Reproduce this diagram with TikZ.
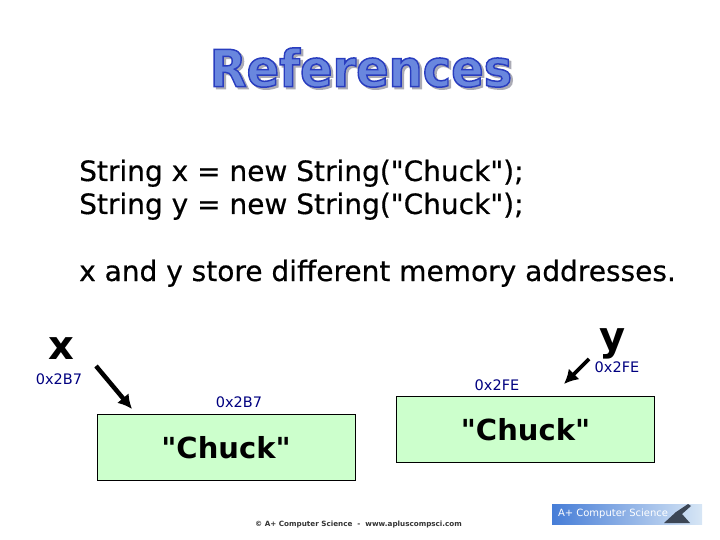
\documentclass[tikz,border=0pt]{standalone}
\usepackage{fontspec}
\usepackage{xcolor}
\usetikzlibrary{positioning,calc,arrows.meta}
\setmainfont[Ligatures=TeXOff]{DejaVu Sans}
\newfontfamily\codefont[Ligatures=TeXOff,FakeBold=0.5]{DejaVu Sans}
\definecolor{boxgreen}{RGB}{204,255,204}
\definecolor{addrblue}{RGB}{0,0,128}
\definecolor{logoblue}{RGB}{70,125,215}
\definecolor{logopale}{RGB}{215,230,245}
\definecolor{logohand}{RGB}{60,70,85}
\newcommand{\titleink}[1]{\special{pdf:code 2 Tr 1.5 w 0.16 0.24 0.75 RG 0.41 0.53 0.87 rg}#1\special{pdf:code 0 Tr}}
\newcommand{\shadowink}[1]{\special{pdf:code 2 Tr 1.5 w 0.67 0.67 0.71 RG 0.67 0.67 0.71 rg}#1\special{pdf:code 0 Tr}}

\begin{document}
\begin{tikzpicture}[x=1pt, y=-1pt, inner sep=0pt,
  headline/.style={xscale=0.94, transform shape, font=\bfseries\fontsize{51}{54}\selectfont},
  codeline/.style={anchor=base west, font=\codefont\fontsize{28}{30}\selectfont},
  addr/.style={font=\fontsize{14.5}{16}\selectfont, text=addrblue},
  var/.style={font=\bfseries\fontsize{40}{44}\selectfont},
  memory/.style={draw, line width=0.8pt, fill=boxgreen, minimum width=258pt, minimum height=66pt, font=\bfseries\fontsize{29}{32}\selectfont},
  pointer/.style={line width=4.5pt, -{Latex[length=14pt,width=15pt]}}]
\useasboundingbox (0,0) rectangle (720,540);
\node[headline] (title) at (361,68.5) {\rlap{\raisebox{-2pt}{\hspace{2.5pt}\shadowink{References}}}\titleink{References}};
\node[codeline] (line1) at (79,181) {String x = new String("Chuck");};
\node[codeline] (line2) at (79,214) {String y = new String("Chuck");};
\node[codeline] (line3) at (79,281) {x and y store different memory addresses.};
\node[var] (x) at (61,349) {x};
\node[var] (y) at (613,344) {y};
\node[addr] (xaddr) at (59,379) {0x2B7};
\node[addr] (yaddr) at (617,367) {0x2FE};
\node[memory] (xbox) at (226,447.5) {"Chuck"};
\node[memory] (ybox) at (525.5,429.5) {"Chuck"};
\node[addr] (xboxaddr) at (239,402) {0x2B7};
\node[addr] (yboxaddr) at (497,385) {0x2FE};
\coordinate (xfrom) at (96,366);
\coordinate (xto) at (132,409);
\coordinate (yfrom) at (589,359);
\coordinate (yto) at (564,384);
\draw[pointer] (xfrom) -- (xto);
\draw[pointer, line width=3.8pt] (yfrom) -- (yto);
\node[font=\bfseries\fontsize{7.2}{9}\selectfont, text=black!80] (footer) at (358.5,525) {© A+ Computer Science \ - \ www.apluscompsci.com};
\node[minimum width=150pt, minimum height=20pt, left color=logoblue, middle color=logoblue, right color=logopale] (logo) at (627,514) {};
\fill[logohand] (664,523) -- (676,512) -- (688,504) -- (691,506) -- (682,514) -- (690,523) -- cycle;
\node[right=6pt of logo.west, font=\fontsize{10}{11}\selectfont, text=white] (logotext) {A+ Computer Science};
\end{tikzpicture}
\end{document}
